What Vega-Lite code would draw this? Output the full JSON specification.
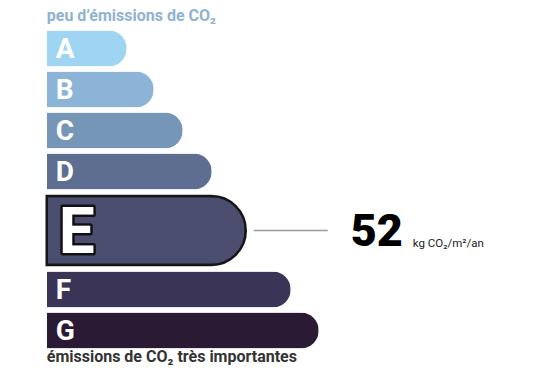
{
  "$schema": "https://vega.github.io/schema/vega-lite/v6.json",
  "padding": {"left": 44.75, "top": 8, "right": 0, "bottom": 0},
  "background": "white",
  "spacing": 0,
  "config": {"view": {"stroke": null}, "font": "Roboto"},
  "datasets": {
    "classes": [
      {"classe": "A", "longueur": 80},
      {"classe": "B", "longueur": 107},
      {"classe": "C", "longueur": 136},
      {"classe": "D", "longueur": 165},
      {"classe": "E", "longueur": 199, "valeur": 52, "unite": "kg CO₂/m²/an"},
      {"classe": "F", "longueur": 244},
      {"classe": "G", "longueur": 272}
    ]
  },
  "vconcat": [
    {
      "width": 490,
      "height": 164,
      "title": {"text": "peu d’émissions de CO₂", "anchor": "start", "frame": "group", "fontSize": 16, "fontWeight": "bold", "color": "#8fb2d3", "offset": 4},
      "data": {"name": "classes"},
      "transform": [{"filter": {"field": "classe", "oneOf": ["A", "B", "C", "D"]}}],
      "encoding": {"y": {"field": "classe", "type": "nominal", "axis": null, "scale": {"paddingInner": 0.122, "paddingOuter": 0.061}}},
      "layer": [
        {
          "mark": {"type": "bar", "cornerRadiusEnd": 18},
          "encoding": {
            "x": {"field": "longueur", "type": "quantitative", "axis": null, "scale": {"domain": [0, 490], "nice": false}},
            "color": {"field": "classe", "type": "nominal", "legend": null, "scale": {"domain": ["A", "B", "C", "D", "E", "F", "G"], "range": ["#9fd5f3", "#8cb4d6", "#7596b7", "#5d6e90", "#4b4e6e", "#3a3456", "#2a1a33"]}}
          }
        },
        {
          "mark": {"type": "text", "align": "left", "baseline": "middle", "dx": 9, "dy": 1, "fontSize": 28, "fontWeight": "bold", "color": "white"},
          "encoding": {"x": {"datum": 0}, "text": {"field": "classe"}}
        }
      ]
    },
    {
      "width": 490,
      "height": 77,
      "data": {"name": "classes"},
      "transform": [{"filter": {"field": "classe", "equal": "E"}}],
      "encoding": {"y": {"field": "classe", "type": "nominal", "axis": null}},
      "layer": [
        {
          "mark": {"type": "bar", "height": 69, "cornerRadiusEnd": 34.5, "stroke": "#161616", "strokeWidth": 2.5},
          "encoding": {
            "x": {"field": "longueur", "type": "quantitative", "axis": null, "scale": {"domain": [0, 490], "nice": false}},
            "color": {"field": "classe", "type": "nominal", "legend": null, "scale": {"domain": ["A", "B", "C", "D", "E", "F", "G"], "range": ["#9fd5f3", "#8cb4d6", "#7596b7", "#5d6e90", "#4b4e6e", "#3a3456", "#2a1a33"]}}
          }
        },
        {
          "mark": {"type": "text", "align": "left", "baseline": "middle", "dx": 12, "dy": 3, "fontSize": 64, "fontWeight": "bold", "color": "#111111", "stroke": "#111111", "strokeWidth": 5, "strokeJoin": "round"},
          "encoding": {"x": {"datum": 0}, "text": {"field": "classe"}}
        },
        {
          "mark": {"type": "text", "align": "left", "baseline": "middle", "dx": 12, "dy": 3, "fontSize": 64, "fontWeight": "bold", "color": "white"},
          "encoding": {"x": {"datum": 0}, "text": {"field": "classe"}}
        },
        {
          "mark": {"type": "rule", "color": "#9a9a9a", "strokeWidth": 1.5},
          "encoding": {"x": {"datum": 207}, "x2": {"datum": 281}}
        },
        {
          "mark": {"type": "text", "align": "left", "baseline": "alphabetic", "dy": 15, "fontSize": 45, "fontWeight": 900, "color": "#000000"},
          "encoding": {"x": {"datum": 304}, "text": {"field": "valeur"}}
        },
        {
          "mark": {"type": "text", "align": "left", "baseline": "alphabetic", "dy": 16, "fontSize": 11.5, "color": "#222222"},
          "encoding": {"x": {"datum": 366}, "text": {"field": "unite"}}
        }
      ]
    },
    {
      "width": 490,
      "height": 82,
      "title": {"text": "émissions de CO₂ très importantes", "orient": "bottom", "anchor": "start", "frame": "group", "fontSize": 16, "fontWeight": "bold", "color": "#333333", "offset": -2},
      "data": {"name": "classes"},
      "transform": [{"filter": {"field": "classe", "oneOf": ["F", "G"]}}],
      "encoding": {"y": {"field": "classe", "type": "nominal", "axis": null, "scale": {"paddingInner": 0.122, "paddingOuter": 0.061}}},
      "layer": [
        {
          "mark": {"type": "bar", "cornerRadiusEnd": 18},
          "encoding": {
            "x": {"field": "longueur", "type": "quantitative", "axis": null, "scale": {"domain": [0, 490], "nice": false}},
            "color": {"field": "classe", "type": "nominal", "legend": null, "scale": {"domain": ["A", "B", "C", "D", "E", "F", "G"], "range": ["#9fd5f3", "#8cb4d6", "#7596b7", "#5d6e90", "#4b4e6e", "#3a3456", "#2a1a33"]}}
          }
        },
        {
          "mark": {"type": "text", "align": "left", "baseline": "middle", "dx": 9, "dy": 1, "fontSize": 28, "fontWeight": "bold", "color": "white"},
          "encoding": {"x": {"datum": 0}, "text": {"field": "classe"}}
        }
      ]
    }
  ]
}
